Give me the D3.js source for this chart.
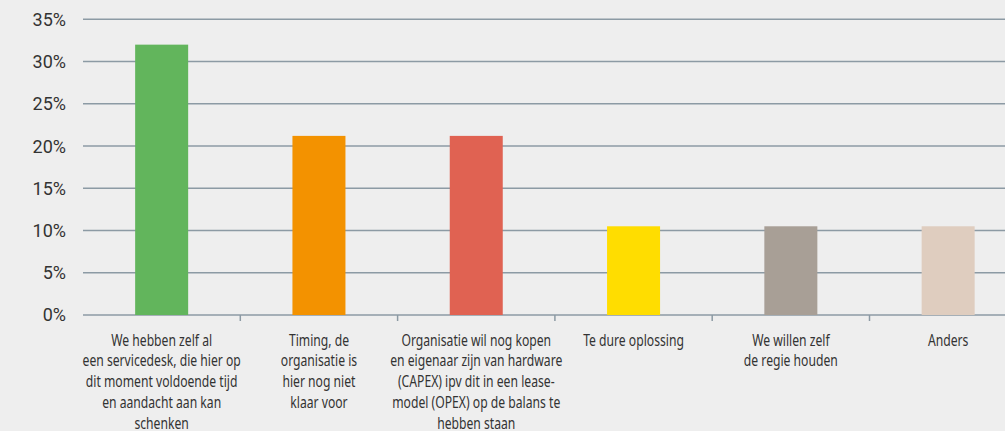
<!DOCTYPE html>
<html>
<head>
<meta charset="utf-8">
<script src="https://cdn.jsdelivr.net/npm/d3@7"></script>
<style>
  body { margin: 0; background: #eeeeee; }
  svg { display: block; }
  .ytick text { font-family: Roboto, "Noto Sans", sans-serif; font-size: 18px; fill: #333; }
  .cat text { font-family: "Noto Sans", "DejaVu Sans", sans-serif; font-size: 16px; fill: #333; }
</style>
</head>
<body>
<script>
// chart data
const categories = [
    ["We hebben zelf al", "een servicedesk, die hier op", "dit moment voldoende tijd", "en aandacht aan kan", "schenken"],
    ["Timing, de", "organisatie is", "hier nog niet", "klaar voor"],
    ["Organisatie wil nog kopen", "en eigenaar zijn van hardware", "(CAPEX) ipv dit in een lease-", "model (OPEX) op de balans te", "hebben staan"],
    ["Te dure oplossing"],
    ["We willen zelf", "de regie houden"],
    ["Anders"]
];
const values = [32, 21.2, 21.2, 10.5, 10.5, 10.5];
const colors = ["#62b55c", "#f39200", "#e06252", "#ffdd00", "#a89f96", "#dfcdbf"];
const yTicks = [0, 5, 10, 15, 20, 25, 30, 35];

const W = 1005, H = 431;
const plotLeft = 83, plotTop = 19.3, plotBottom = 315;

const svg = d3.select("body").append("svg")
    .attr("width", W)
    .attr("height", H);

const x = d3.scaleBand()
    .domain(d3.range(categories.length))
    .range([plotLeft, plotLeft + 157.3 * categories.length])
    .paddingInner(0.663)
    .paddingOuter(0.3315);

const y = d3.scaleLinear()
    .domain([0, 35])
    .range([plotBottom, plotTop]);

// gridlines + y labels
const yg = svg.append("g").attr("class", "ytick")
    .selectAll("g")
    .data(yTicks)
    .enter().append("g")
    .attr("transform", d => "translate(0," + y(d) + ")");

yg.append("line")
    .attr("x1", plotLeft)
    .attr("x2", W)
    .attr("stroke", "#8c9aa4")
    .attr("stroke-width", 1.5);

yg.append("text")
    .attr("x", 66)
    .attr("dy", "0.36em")
    .attr("text-anchor", "end")
    .text(d => d + "%");

// bars
svg.selectAll("rect.bar")
    .data(values)
    .enter().append("rect")
    .attr("class", "bar")
    .attr("x", (d, i) => x(i))
    .attr("width", x.bandwidth())
    .attr("y", d => y(d))
    .attr("height", d => y(0) - y(d))
    .attr("fill", (d, i) => colors[i]);

// ticks between bands
const step = x.step();
svg.selectAll("line.sep")
    .data(d3.range(1, categories.length))
    .enter().append("line")
    .attr("class", "sep")
    .attr("x1", i => plotLeft + step * i)
    .attr("x2", i => plotLeft + step * i)
    .attr("y1", plotBottom)
    .attr("y2", plotBottom + 6)
    .attr("stroke", "#8c9aa4")
    .attr("stroke-width", 1.5);

// category labels (condensed look via horizontal squeeze)
const cat = svg.append("g").attr("class", "cat")
    .selectAll("text")
    .data(categories)
    .enter().append("text")
    .attr("text-anchor", "middle")
    .attr("transform", (d, i) => "translate(" + (x(i) + x.bandwidth() / 2) + ",345.5) scale(0.76,1)");

cat.selectAll("tspan")
    .data(d => d)
    .enter().append("tspan")
    .attr("x", 0)
    .attr("dy", (d, i) => i === 0 ? 0 : 20.8)
    .text(d => d);
</script>
</body>
</html>
